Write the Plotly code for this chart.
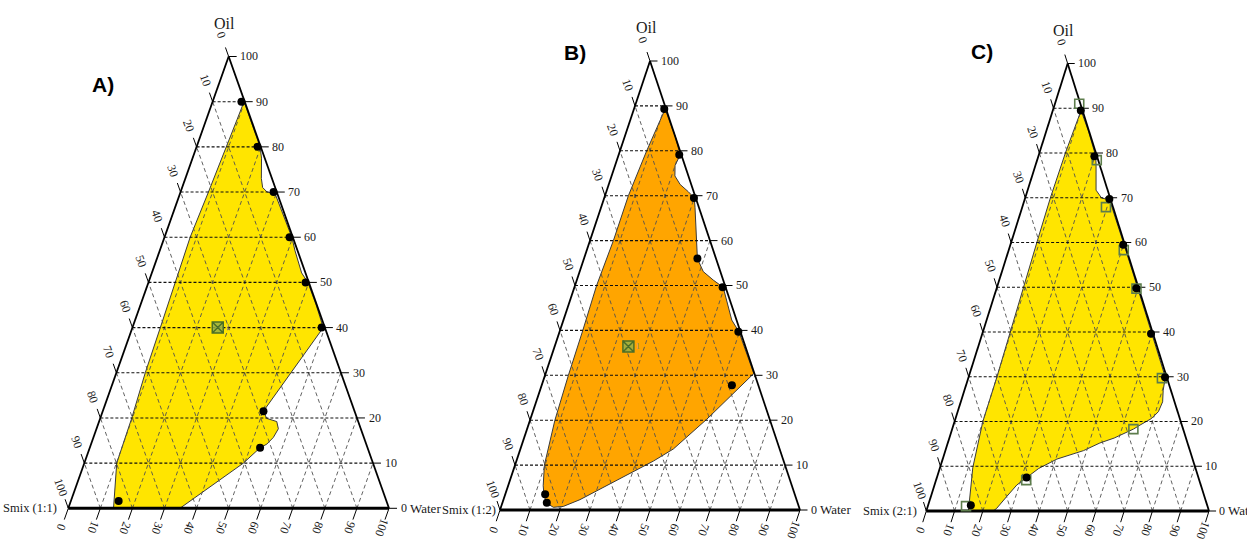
import plotly.graph_objects as go

# ---------------- data (percent; Smix = 100 - Oil - Water) ----------------
TICKS = [0, 10, 20, 30, 40, 50, 60, 70, 80, 90, 100]
TICK_LABELS = [str(t) for t in TICKS]
GRID = [10, 20, 30, 40, 50, 60, 70, 80, 90]

PANEL_LETTERS = ["A)", "B)", "C)"]
SMIX_NAMES = ["Smix (1:1)", "Smix (1:2)", "Smix (2:1)"]
APEX_NAME = "Oil"
RIGHT_NAME = "Water"

# Panel A: microemulsion region boundary (oil %, water %)
A_region_oil = [90, 85, 80, 77.5, 73, 71, 70, 69.7, 65, 60, 57, 54.4, 52.1, 50, 45, 40,
                21.5, 19.9, 19.2, 17.6, 15.7, 14.2, 13.4, 10, 0,
                0, 4.8, 10, 20, 30, 40, 50, 60, 70, 80, 86]
A_region_water = [9.8, 14.8, 19.8, 21.5, 23.7, 25.1, 27.0, 29.6, 34.5, 39.7, 42.2, 44.5, 46.7, 49.7, 54.8, 59.5,
                  50.1, 51.9, 55.4, 56.7, 56.1, 54.8, 53.1, 49.6, 34.8,
                  14.1, 12.2, 10.1, 9.8, 9.0, 8.7, 8.3, 8.0, 8.7, 9.4, 9.6]
A_dot_oil = [90, 80, 70, 60, 50, 40, 21.5, 13.4, 1.6]
A_dot_water = [9, 19, 29, 39, 49, 59, 50.1, 53.1, 14.9]
A_cross_oil = [40]
A_cross_water = [26.6]

# Panel B
B_region_oil = [89.3, 83, 79.1, 76.7, 74.4, 72.5, 70.9, 69.5, 67.4, 61.2, 56.0, 53.1, 51.2, 49.6,
                46.5, 42.3, 39.7, 30.4, 20.2, 13.6, 10.9, 8.5, 5.4, 2.3, 0.8, 0.6, 1.6, 3.5, 5.4,
                10, 20, 30, 40, 50, 60, 70, 80]
B_region_water = [10.4, 17, 20.5, 20.0, 21.1, 23.8, 27.3, 30.0, 31.3, 34.7, 37.8, 41.2, 45.5, 49.6,
                  52.3, 56.1, 59.8, 69.4, 58.8, 51.0, 45.7, 40.2, 32.8, 25.5, 20.7, 17.5, 14.6, 12.9, 11.7,
                  9.8, 8.3, 7.8, 7.6, 7.2, 7.8, 7.8, 8.9]
B_dot_oil = [89.3, 79.1, 69.5, 56.0, 49.6, 39.7, 27.8, 3.5, 1.6]
B_dot_water = [10.1, 20.2, 29.9, 37.8, 49.4, 59.6, 63.4, 13.3, 14.8]
B_cross_oil = [36.4]
B_cross_water = [24.6]

# Panel C
C_region_oil = [89.5, 85, 79.3, 77.3, 71.7, 69.9, 69.6, 65, 59.5, 49.8, 39.6, 29.9,
                27.0, 24.4, 22.2, 20.7, 19.2, 18.3, 16.3, 15.2, 13.5, 11.6, 9.5, 7.5, 5.8, 3.2, 0.6, 0,
                0, 9.7, 20, 30, 40, 50, 60, 70, 80]
C_region_water = [10.0, 14.8, 20.3, 21.4, 24.2, 27.1, 30.0, 34.7, 40.2, 49.9, 60.0, 69.6,
                  70.3, 71.4, 71.0, 69.4, 66.0, 64.1, 58.3, 53.8, 48.9, 40.4, 35.0, 31.7, 29.1, 26.8, 24.6, 23.7,
                  14.9, 11.6, 10.0, 10.0, 9.7, 9.2, 9.1, 8.9, 9.2]
C_dot_oil = [89.5, 79.3, 69.7, 59.5, 49.8, 39.6, 29.9, 7.5, 1.3]
C_dot_water = [9.9, 19.8, 29.9, 39.9, 49.4, 59.7, 69.5, 31.7, 15.1]
C_sq_oil = [91, 78.4, 67.9, 58.3, 49.7, 29.7, 18.3, 6.9, 1.1]
C_sq_water = [8.6, 21.1, 29.6, 40.7, 49.5, 68.5, 64.1, 31.9, 13.5]

# ---------------- layout constants ----------------
FIG_W, FIG_H = 1247, 543
XR = [-0.2, 1.1]
YR = [-0.07, 1.1]
# triangle pixel geometry: left x, right x, base y, apex y
GEOMS = [(68.3, 389.0, 508.3, 56.5), (500.0, 800.0, 510.0, 61.0), (926.3, 1209.0, 511.0, 63.5)]
FILLS = ["#FFE500", "#FFA500", "#FFE500"]
LETTER_POS = [(0.107, 0.937), (0.25, 1.02), (0.196, 1.026)]
SMIX_X = [-0.028, -0.006, -0.025]
SERIF = "Liberation Serif"
TXT = "#1a1a1a"


def tern(oil, water):
    xs, ys = [], []
    for o, w in zip(oil, water):
        if o is None:
            xs.append(None); ys.append(None)
        else:
            xs.append(w / 100 + o / 200)
            ys.append(o / 100)
    return xs, ys


def segs(pairs):
    oil, water = [], []
    for (o1, w1), (o2, w2) in pairs:
        oil += [o1, o2, None]
        water += [w1, w2, None]
    return tern(oil, water)


panels = [
    dict(reg=(A_region_oil, A_region_water), dots=(A_dot_oil, A_dot_water),
         cross=(A_cross_oil, A_cross_water), sq=None),
    dict(reg=(B_region_oil, B_region_water), dots=(B_dot_oil, B_dot_water),
         cross=(B_cross_oil, B_cross_water), sq=None),
    dict(reg=(C_region_oil, C_region_water), dots=(C_dot_oil, C_dot_water),
         cross=None, sq=(C_sq_oil, C_sq_water)),
]

fig = go.Figure()
annotations = []
layout_axes = {}

for i, p in enumerate(panels):
    n = "" if i == 0 else str(i + 1)
    xa, ya = "x" + n, "y" + n
    x0, x1, yb, yt = GEOMS[i]
    W, H = x1 - x0, yb - yt
    layout_axes["xaxis" + n] = dict(domain=[(x0 + XR[0] * W) / FIG_W, (x0 + XR[1] * W) / FIG_W],
                                    range=XR, visible=False, fixedrange=True)
    layout_axes["yaxis" + n] = dict(domain=[1 - (yb - YR[0] * H) / FIG_H, 1 - (yb - YR[1] * H) / FIG_H],
                                    range=YR, visible=False, fixedrange=True, anchor=xa)

    # region fill
    ro, rw = p["reg"]
    rx, ry = tern(ro + [ro[0]], rw + [rw[0]])
    fig.add_trace(go.Scatter(x=rx, y=ry, mode="lines", fill="toself", fillcolor=FILLS[i],
                             line=dict(color="#3a3a3a", width=1), xaxis=xa, yaxis=ya, hoverinfo="skip"))

    # diagonal grid (water const & smix const)
    dpairs = [((0, k), (100 - k, k)) for k in GRID] + [((0, 100 - k), (100 - k, 0)) for k in GRID]
    gx, gy = segs(dpairs)
    fig.add_trace(go.Scatter(x=gx, y=gy, mode="lines", line=dict(color="#505050", width=0.9, dash="4px,3px"),
                             xaxis=xa, yaxis=ya, hoverinfo="skip"))
    # horizontal grid (oil const)
    hx, hy = segs([((k, 0), (k, 100 - k)) for k in GRID])
    fig.add_trace(go.Scatter(x=hx, y=hy, mode="lines", line=dict(color="#111111", width=1.1, dash="3px,2px"),
                             xaxis=xa, yaxis=ya, hoverinfo="skip"))

    # triangle edges
    ex, ey = segs([((0, 0), (100, 0)), ((100, 0), (0, 100))])
    fig.add_trace(go.Scatter(x=ex, y=ey, mode="lines", line=dict(color="black", width=1.8),
                             xaxis=xa, yaxis=ya, hoverinfo="skip"))
    bx, by = segs([((0, 0), (0, 100))])
    fig.add_trace(go.Scatter(x=bx, y=by, mode="lines", line=dict(color="black", width=3),
                             xaxis=xa, yaxis=ya, hoverinfo="skip"))

    # ticks
    tpairs = [((k, 100 - k), (k, 102.5 - k)) for k in TICKS]
    tpairs += [((0, k), (-2.5, k)) for k in TICKS]
    tpairs += [((100 - k, 0), (102.0 - k, -2.0)) for k in TICKS]
    tx, ty = segs(tpairs)
    fig.add_trace(go.Scatter(x=tx, y=ty, mode="lines", line=dict(color="black", width=1),
                             xaxis=xa, yaxis=ya, hoverinfo="skip"))

    # markers
    if p["sq"] is not None:
        sx, sy = tern(*p["sq"])
        fig.add_trace(go.Scatter(x=sx, y=sy, mode="markers",
                                 marker=dict(symbol="square-open", size=9, color="#5d7d4c",
                                             line=dict(width=1.6, color="#5d7d4c")),
                                 xaxis=xa, yaxis=ya, hoverinfo="skip"))
    if p["cross"] is not None:
        cx, cy = tern(*p["cross"])
        fig.add_trace(go.Scatter(x=cx, y=cy, mode="markers",
                                 marker=dict(symbol="square-x", size=11, color="rgba(150,175,70,0.85)",
                                             line=dict(width=1.5, color="#4a6e28")),
                                 xaxis=xa, yaxis=ya, hoverinfo="skip"))
        annotations.append(dict(x=cx[0], y=cy[0], xref=xa, yref=ya, text="1", showarrow=False,
                                xshift=10, font=dict(family=SERIF, size=8, color="#888888")))
    dx, dy = tern(*p["dots"])
    fig.add_trace(go.Scatter(x=dx, y=dy, mode="markers", marker=dict(symbol="circle", size=8, color="black"),
                             xaxis=xa, yaxis=ya, hoverinfo="skip"))

    tick_font = dict(family=SERIF, size=12, color=TXT)
    # right (oil) labels
    for k, lab in zip(TICKS, TICK_LABELS):
        ax_, ay_ = tern([k], [103.0 - k])
        annotations.append(dict(x=ax_[0], y=ay_[0], xref=xa, yref=ya, text=lab, showarrow=False,
                                xanchor="left", yanchor="middle", font=tick_font))
    # bottom (water) labels
    for k, lab in zip(TICKS, TICK_LABELS):
        ax_, ay_ = tern([-4.3], [k])
        annotations.append(dict(x=ax_[0], y=ay_[0], xref=xa, yref=ya, text=lab, showarrow=False,
                                textangle=110, xanchor="center", yanchor="middle", font=tick_font))
    # left (smix) labels
    for k, lab in zip(TICKS, TICK_LABELS):
        ax_, ay_ = tern([104.7 - k], [-4.7])
        annotations.append(dict(x=ax_[0], y=ay_[0], xref=xa, yref=ya, text=lab, showarrow=False,
                                textangle=70, xanchor="center", yanchor="middle", font=tick_font))

    # axis titles
    annotations.append(dict(x=0.487, y=1.074, xref=xa, yref=ya, text=APEX_NAME, showarrow=False,
                            font=dict(family=SERIF, size=16, color=TXT)))
    annotations.append(dict(x=SMIX_X[i], y=0.0, xref=xa, yref=ya, text=SMIX_NAMES[i], showarrow=False,
                            xanchor="right", yanchor="middle", font=dict(family=SERIF, size=12.5, color=TXT)))
    wx, wy = tern([0], [103.0])
    annotations.append(dict(x=wx[0], y=wy[0], xref=xa, yref=ya, text=RIGHT_NAME, showarrow=False,
                            xanchor="left", yanchor="middle", xshift=9,
                            font=dict(family=SERIF, size=13, color=TXT)))
    # panel letter
    annotations.append(dict(x=LETTER_POS[i][0], y=LETTER_POS[i][1], xref=xa, yref=ya,
                            text="<b>" + PANEL_LETTERS[i] + "</b>", showarrow=False,
                            font=dict(family="Liberation Sans", size=21, color="black")))

fig.update_layout(width=FIG_W, height=FIG_H, margin=dict(l=0, r=0, t=0, b=0),
                  paper_bgcolor="white", plot_bgcolor="rgba(0,0,0,0)", showlegend=False,
                  annotations=annotations, **layout_axes)
fig.write_html("out.html", config={"displayModeBar": False},
               post_script="document.body.style.margin='0px';document.body.style.overflow='hidden';")
